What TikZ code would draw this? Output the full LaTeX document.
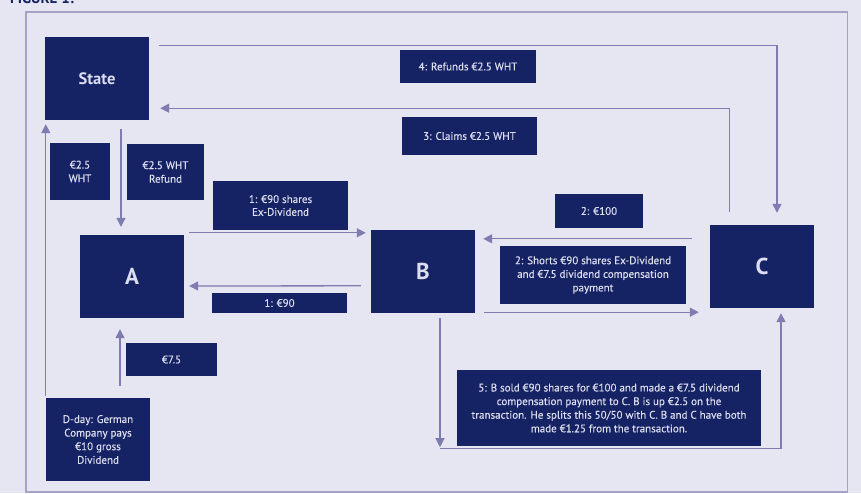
\documentclass[tikz,border=0pt]{standalone}
\usepackage{fontspec}
\setmainfont{PT Sans}
\newfontfamily\lblfont{PT Sans}[FakeBold=0.35]
\usetikzlibrary{arrows.meta,calc}
\definecolor{bgc}{HTML}{E6E5F2}
\definecolor{navy}{HTML}{152263}
\definecolor{lbl}{HTML}{DCDDF0}
\definecolor{conn}{HTML}{7E7CB0}
\definecolor{framec}{HTML}{A4A2C6}
\begin{document}
\begin{tikzpicture}[x=1pt,y=-1pt,
  box/.style={fill=navy, text=lbl, inner sep=0pt, align=center, font=\lblfont\fontsize{11}{13.6}\selectfont},
  bigbox/.style={box, minimum width=104pt, minimum height=83pt, font=\bfseries\fontsize{23}{26}\selectfont},
  conline/.style={draw=conn, line width=1.3pt},
  arr/.style={conline, -{Triangle[width=9pt,length=9pt]}}]
\clip (0,0) rectangle (861,493);
\fill[bgc] (0,0) rectangle (861,493);
\node[anchor=base west, text=navy, inner sep=0pt, font=\bfseries\fontsize{15}{18}\selectfont] (fig) at (10,3) {FIGURE 1:};
\draw[framec, line width=1.2pt] (26,12) rectangle (847.5,492);
% main boxes
\node[bigbox, font=\bfseries\fontsize{16.5}{19}\selectfont] (state) at (97,78.5) {State};
\node[bigbox] (a) at (132,276.5) {A};
\node[bigbox] (b) at (423,271.5) {B};
\node[bigbox] (c) at (762,266.5) {C};
\node[box, minimum width=104pt, minimum height=83pt] (dday) at (98,439.5) {D-day: German\\Company pays\\€10 gross\\Dividend};
% labels
\node[box, minimum width=60pt, minimum height=57pt] (wht) at (80,171.5) {€2.5\\WHT};
\node[box, minimum width=77pt, minimum height=56pt] (refund) at (165.5,172) {€2.5 WHT\\Refund};
\node[box, minimum width=135pt, minimum height=49pt, font=\lblfont\fontsize{11}{12.8}\selectfont] (shares) at (280.5,205.5) {1: €90 shares\\Ex-Dividend};
\node[box, minimum width=135pt, minimum height=20pt] (ninety) at (279.5,303) {1: €90};
\node[box, minimum width=88pt, minimum height=34pt] (hundred) at (599,211) {2: €100};
\node[box, minimum width=186pt, minimum height=58pt] (shorts) at (593,275) {2: Shorts €90 shares Ex-Dividend\\and €7.5 dividend compensation\\payment};
\node[box, minimum width=136pt, minimum height=33pt] (refunds) at (468,66.5) {4: Refunds €2.5 WHT};
\node[box, minimum width=135pt, minimum height=38pt] (claims) at (469.5,136) {3: Claims €2.5 WHT};
\node[box, minimum width=91pt, minimum height=33pt] (seven) at (171.5,359.5) {€7.5};
\node[box, minimum width=304pt, minimum height=76pt] (five) at (609,408) {5: B sold €90 shares for €100 and made a €7.5 dividend\\compensation payment to C. B is up €2.5 on the\\transaction. He splits this 50/50 with C. B and C have both\\made €1.25 from the transaction.};
% connectors
\draw[arr] ($(state.north east)+(10,9)$) -| ($(c.north)+(15,-12)$);
\draw[arr] ($(c.north west)+(20,-13)$) |- ($(state.south east)+(11,-12)$);
\draw[arr] ($(state.south)+(24,9)$) -- ($(a.north)+(-11,-8)$);
\draw[arr] ($(dday.north west)+(0,-2)$) -- ($(state.south west)+(1,4)$);
\draw[arr] ($(dday.north)+(22,-12)$) -- ($(a.south)+(-12,11)$);
\draw[arr] ($(a.north east)+(5,-2)$) -- ($(b.north west)+(-5,3)$);
\draw[arr] ($(b.north west)+(-10,56)$) -- ($(a.east)+(5,9.5)$);
\draw[arr] ($(c.north west)+(-18,14)$) -- ($(b.north east)+(8,9)$);
\draw[arr] ($(b.south east)+(9,-1)$) -- ($(c.south west)+(-11,4)$);
\coordinate (corner) at ($(b.south)+(17,135)$);
\draw[arr] ($(b.south)+(17,5)$) -- ($(corner)+(0,-1)$);
\draw[arr] (corner) -| ($(c.south)+(19,5)$);
\end{tikzpicture}
\end{document}
